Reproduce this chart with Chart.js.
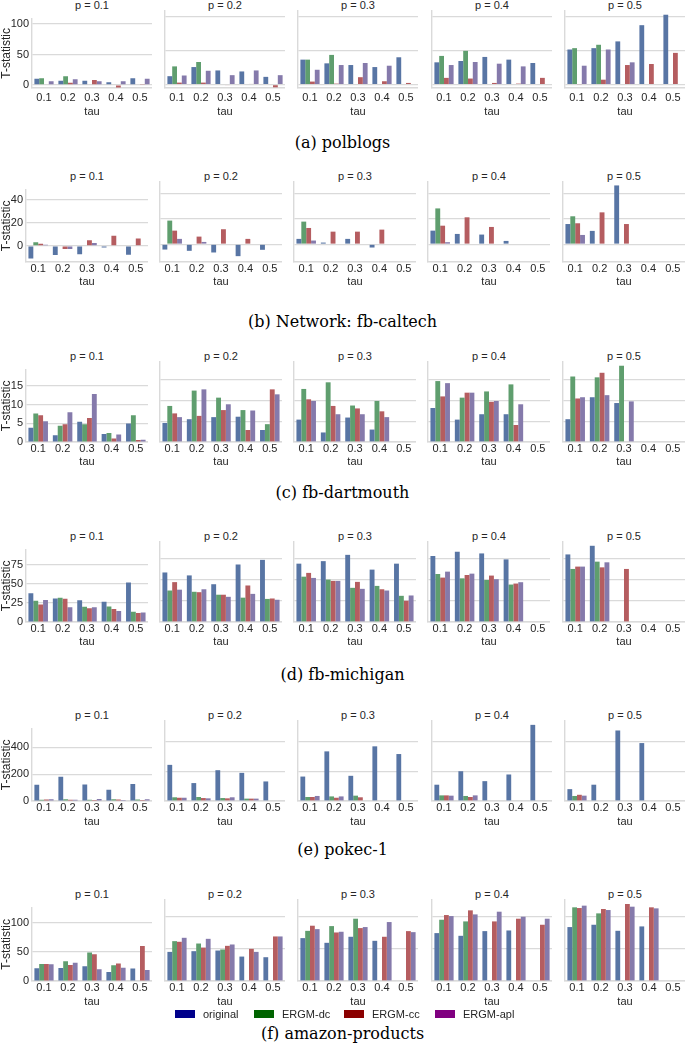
<!DOCTYPE html>
<html>
<head>
<meta charset="utf-8">
<script src="https://cdn.jsdelivr.net/npm/chart.js@4.4.0/dist/chart.umd.min.js"></script>
<style>
  html, body { margin: 0; padding: 0; background: #fff; }
  #fig { position: relative; width: 685px; height: 1045px; overflow: hidden; }
  #fig canvas { position: absolute; }
  .ptitle { position: absolute; height: 14px; line-height: 14px; text-align: center;
            font-family: 'Liberation Sans', Arial, sans-serif; font-size: 11px; color: #262626; }
  .caption { position: absolute; left: 0; width: 685px; text-align: center; line-height: 20px;
             font-family: 'DejaVu Serif', serif; font-size: 16px; color: #000; }
  .item { position: absolute; height: 16px; display: flex; align-items: center;
          font-family: 'Liberation Sans', Arial, sans-serif; font-size: 11px; color: #262626; }
  .swatch { width: 20px; height: 8px; margin-right: 8px; }
</style>
</head>
<body>
<div id="fig"></div>
<script>
// categories
const taus = ['0.1', '0.2', '0.3', '0.4', '0.5'];
const pValues = ['0.1', '0.2', '0.3', '0.4', '0.5'];
const seriesNames = ['original', 'ERGM-dc', 'ERGM-cc', 'ERGM-apl'];

// each array: one row per p, five values per tau (null = no bar)
// (a) polblogs
const polblogsTicks = [0, 50, 100];
const polblogsOriginal = [[10, 7, 7, 4.5, 11], [12.5, 26, 21, 19.5, 11.5], [37, 31.5, 29, 26, 40.5], [33, 35, 41, 37, 32], [52, 54, 64, 88, 103.5]];
const polblogsDc = [[11, 14.5, null, null, null], [27, 33.5, null, null, null], [37, 44, null, null, null], [42.5, 50, null, null, null], [54, 59, null, null, null]];
const polblogsCc = [[-1, 3.5, 8, -4, 0.8], [3, 3, -0.8, 1, -4], [4.5, 1.5, 11, 5, 2.5], [10, 9, 2.5, 1.5, 10], [0.7, 7.3, 29, 30.5, 47]];
const polblogsApl = [[6, 9.5, 6, 6, 10], [13.5, 20.5, 14, 21, 14], [22, 29, 32, 28, null], [29, 33.5, 31, 27, null], [28, 52, 33, null, null]];

// (b) fb-caltech
const caltechTicks = [0, 20, 40];
const caltechOriginal = [[-11, -8, -7.3, -1.3, -7.8], [-4.2, -5.2, -6.5, -9.4, -4.4], [4.2, 1.3, 4.2, -2.6, null], [10.7, 8.1, 7.6, 2.6, null], [15.9, 10.5, 46.3, null, null]];
const caltechDc = [[3.1, null, null, null, null], [18.6, null, null, null, null], [17.8, null, null, null, null], [28.2, null, null, null, null], [22, null, null, null, null]];
const caltechCc = [[1.8, -2.6, 5, 8.9, 6.5], [10.7, 6, 11.8, 4.2, null], [12.8, 9.9, 9.9, 11.5, null], [14.6, 21.2, 13.6, null, null], [16.5, 25.1, 15.9, null, null]];
const caltechApl = [[1, -2.6, 2.6, null, null], [4.2, 1.8, null, null, null], [2.9, null, null, null, null], [1.6, null, null, null, null], [7.3, null, null, null, null]];

// (c) fb-dartmouth
const dartmouthTicks = [0, 5, 10, 15];
const dartmouthOriginal = [[3.8, 1.8, 5.4, 2.1, 4.9], [4.6, 5.5, 6, 6.1, 2.9], [5.4, 2.3, 5.9, 3, null], [8.2, 5.4, 6.7, 6.7, null], [5.5, 10.8, 9.4, null, null]];
const dartmouthDc = [[7.6, 4.3, 4.7, 2.4, 7.1], [8.7, 12.4, 10.7, 7.7, 4.3], [12.8, 14.4, 8.8, 9.9, null], [14.7, 10.7, 12.2, 13.9, null], [15.8, 15.6, 18.4, null, null]];
const dartmouthCc = [[7.1, 4.7, 6.4, 0.9, 0.5], [6.9, 6.3, 7.7, 2.9, 12.7], [10.3, 8.7, 8.1, 7.4, null], [11, 11.9, 9.7, 4.1, null], [10.5, 16.7, null, null, null]];
const dartmouthApl = [[5.5, 7.9, 12.8, 2, 0.6], [6, 12.7, 9.1, 7.6, 11.5], [9.9, 6.7, 6.7, 6, null], [14.2, 11.9, 9.9, 9.1, null], [10.8, 11.3, 9.8, null, null]];

// (d) fb-michigan
const michiganTicks = [0, 25, 50, 75];
const michiganOriginal = [[38, 31, 28.5, 26.5, 52], [59, 55.5, 45, 68.5, 74], [69.5, 72.5, 80, 62.4, 69.5], [78.6, 83.7, 81.7, 74.6, null], [80.5, 90.8, null, null, null]];
const michiganDc = [[28, 32, 20, 20.5, 13.5], [37.5, 36, 32.5, 29, 27.5], [54, 50.5, 40.7, 43, 31.2], [57.2, 52, 50, 44.6, null], [63.2, 71.9, null, null, null]];
const michiganCc = [[23, 30.5, 18, 17, 12], [47.5, 35.5, 32.5, 43.5, 28], [58.5, 49, 47.8, 39, 25.3], [52.9, 56, 55.3, 45.8, null], [66, 65.1, 63.2, null, null]];
const michiganApl = [[29, 19.5, 19.5, 14.5, 12.5], [38.5, 39, 30, 33.5, 26.5], [52.5, 49, 39.5, 37.5, 31.6], [60, 57.6, 51, 47.4, null], [66, 71.1, null, null, null]];

// (e) pokec-1
const pokecTicks = [0, 200, 400];
const pokecOriginal = [[121, 181, 123, 83, 127], [244, 121, 208, 190, 132], [165, 335, 170, 369, 317], [110, 201, 134, 179, 514], [80, 110, 476, 391, null]];
const pokecDc = [[9, 13, 9, 13, 11], [25, 27, 20, 16, null], [27, 31, 36, null, null], [38, 34, null, null, null], [34, null, null, null, null]];
const pokecCc = [[11, 9, 7, 11, 7], [22, 20, 18, 16, null], [27, 22, 25, null, null], [38, 27, null, null, null], [42, null, null, null, null]];
const pokecApl = [[13, 9, 15, 7, 13], [22, 18, 25, 16, null], [34, 31, null, null, null], [36, 38, null, null, null], [36, null, null, null, null]];

// (f) amazon-products
const amazonTicks = [0, 50, 100];
const amazonOriginal = [[21.9, 22.4, 25.5, 15.6, 21.4], [45.3, 46.4, 47.4, 38, 37], [66.7, 59.4, 68.8, 62.5, null], [74.5, 70.3, 77.6, 78.6, null], [83.9, 87.5, 78.1, 84.9, null]];
const amazonDc = [[29.2, 33.9, 49, 27, null], [62, 58.3, 49, null, null], [78, 85.4, 96.9, null, null], [95.3, 92.7, null, null, null], [114.6, 105.2, null, null, null]];
const amazonCc = [[29.2, 27.6, 45.8, 30.2, 59.9], [61, 52, 54.7, 50, 69.3], [86, 75.5, 82.3, 68.8, 77.6], [102.6, 109.9, 92.7, 96.9, 87.5], [113.5, 112, 119.8, 114.6, null]];
const amazonApl = [[28.6, 31.2, 20.3, 22.9, 18.8], [67.2, 65.6, 56.8, 45.3, 69.3], [80.7, 76.6, 83.9, 91.7, 76], [101, 103.6, 107.8, 100, 96.9], [117.2, 110.4, 115.6, 113, null]];

const barColors = ['#5875a4', '#5f9e6e', '#b55d60', '#857aab'];
const legendColors = ['#00008b', '#006400', '#8b0000', '#800080'];
const GRID = '#dadada';
const TEXT = '#262626';
const PAD_TOP = 2;

const lefts1 = [32, 165, 298, 432, 565];
const lefts2 = [26, 160, 294, 428, 563];

const rows = [
  { caption: '(a) polblogs', capY: 143, series: [polblogsOriginal, polblogsDc, polblogsCc, polblogsApl],
    ticks: polblogsTicks, yMin: -5, yMax: 109, top: 11, bottom: 88, lefts: lefts1, width: 120, tickPad: 3, xH: 30 },
  { caption: '(b) Network: fb-caltech', capY: 322, series: [caltechOriginal, caltechDc, caltechCc, caltechApl],
    ticks: caltechTicks, yMin: -14, yMax: 49, top: 182, bottom: 262, lefts: lefts2, width: 122, tickPad: 0, xH: 26 },
  { caption: '(c) fb-dartmouth', capY: 493, series: [dartmouthOriginal, dartmouthDc, dartmouthCc, dartmouthApl],
    ticks: dartmouthTicks, yMin: 0, yMax: 19.3, top: 362, bottom: 442, lefts: lefts2, width: 122, tickPad: 0, xH: 26 },
  { caption: '(d) fb-michigan', capY: 675, series: [michiganOriginal, michiganDc, michiganCc, michiganApl],
    ticks: michiganTicks, yMin: 0, yMax: 95.3, top: 542, bottom: 622, lefts: lefts2, width: 122, tickPad: 0, xH: 26 },
  { caption: '(e) pokec-1', capY: 850, series: [pokecOriginal, pokecDc, pokecCc, pokecApl],
    ticks: pokecTicks, yMin: 0, yMax: 540, top: 721, bottom: 801, lefts: lefts1, width: 120, tickPad: 0, xH: 27 },
  { caption: '(f) amazon-products', capY: 1034, series: [amazonOriginal, amazonDc, amazonCc, amazonApl],
    ticks: amazonTicks, yMin: 0, yMax: 126, top: 900, bottom: 981, lefts: lefts1, width: 120, tickPad: 0, xH: 27 }
];

Chart.defaults.font.family = "'Liberation Sans', Arial, sans-serif";
Chart.defaults.color = TEXT;

const fig = document.getElementById('fig');

rows.forEach(row => {
  const plotH = row.bottom - row.top;
  pValues.forEach((p, i) => {
    const left = row.lefts[i];
    const first = i === 0;
    const yW = first ? left : 3;

    const t = document.createElement('div');
    t.className = 'ptitle';
    t.style.left = left + 'px';
    t.style.width = row.width + 'px';
    t.style.top = (row.top - 13) + 'px';
    t.textContent = 'p = ' + p;
    fig.appendChild(t);

    const cv = document.createElement('canvas');
    cv.width = yW + row.width;
    cv.height = PAD_TOP + plotH + row.xH;
    cv.style.left = (left - yW) + 'px';
    cv.style.top = (row.top - PAD_TOP) + 'px';
    cv.style.width = cv.width + 'px';
    cv.style.height = cv.height + 'px';
    fig.appendChild(cv);

    new Chart(cv.getContext('2d'), {
      type: 'bar',
      data: {
        labels: taus,
        datasets: seriesNames.map((name, k) => ({
          label: name,
          data: row.series[k][i],
          backgroundColor: barColors[k],
          borderWidth: 0,
          categoryPercentage: 0.8,
          barPercentage: 1.0
        }))
      },
      options: {
        responsive: false,
        animation: false,
        layout: { padding: { top: PAD_TOP, left: 0, right: 0, bottom: 0 } },
        plugins: { legend: { display: false }, tooltip: { enabled: false }, title: { display: false } },
        scales: {
          x: {
            afterFit: s => { s.height = row.xH; },
            grid: { display: true, color: 'rgba(0,0,0,0)', drawTicks: false },
            border: { display: true, color: GRID, width: 1.4 },
            ticks: { padding: row.tickPad, color: TEXT, font: { size: 11 }, maxRotation: 0, autoSkip: false },
            title: { display: true, text: 'tau', color: TEXT, font: { size: 11, lineHeight: '13px' }, padding: 0 }
          },
          y: {
            min: row.yMin,
            max: row.yMax,
            afterBuildTicks: s => { s.ticks = row.ticks.map(v => ({ value: v })); },
            afterFit: s => { s.width = yW; },
            grid: { color: GRID, lineWidth: 1.2, drawTicks: false },
            border: { display: true, color: GRID, width: 1.4 },
            ticks: { display: first, padding: 3, color: TEXT, font: { size: 11 } },
            title: { display: first, text: 'T-statistic', color: TEXT, font: { size: 12, lineHeight: '14px' }, padding: 0 }
          }
        }
      }
    });
  });

  const c = document.createElement('div');
  c.className = 'caption';
  c.style.top = (row.capY - 10) + 'px';
  c.textContent = row.caption;
  fig.appendChild(c);
});

// legend under the last row
const legendLefts = [175, 254, 344, 435];
seriesNames.forEach((name, k) => {
  const it = document.createElement('div');
  it.className = 'item';
  it.style.left = legendLefts[k] + 'px';
  it.style.top = '1006px';
  const sw = document.createElement('span');
  sw.className = 'swatch';
  sw.style.background = legendColors[k];
  it.appendChild(sw);
  it.appendChild(document.createTextNode(name));
  fig.appendChild(it);
});
</script>
</body>
</html>
